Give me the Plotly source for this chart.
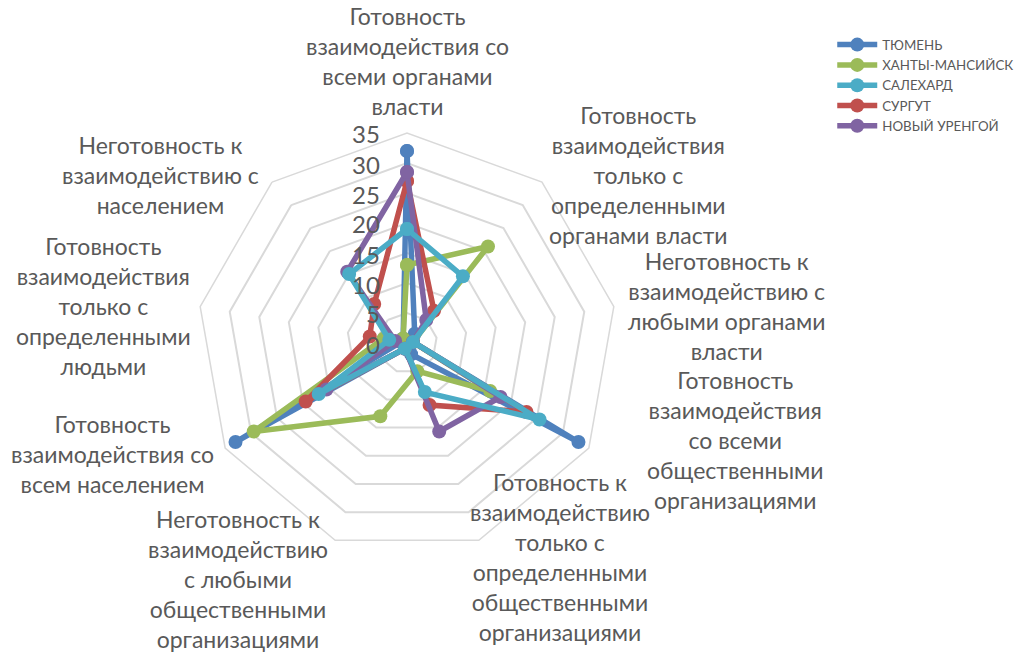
import plotly.graph_objects as go

categories = [
    "Готовность<br>взаимодействия со<br>всеми органами<br>власти",
    "Готовность<br>взаимодействия<br>только с<br>определенными<br>органами власти",
    "Неготовность к<br>взаимодействию с<br>любыми органами<br>власти",
    "Готовность<br>взаимодействия<br>со всеми<br>общественными<br>организациями",
    "Готовность к<br>взаимодействию<br>только с<br>определенными<br>общественными<br>организациями",
    "Неготовность к<br>взаимодействию<br>с любыми<br>общественными<br>организациями",
    "Готовность<br>взаимодействия со<br>всем населением",
    "Готовность<br>взаимодействия<br>только с<br>определенными<br>людьми",
    "Неготовность к<br>взаимодействию с<br>населением",
]

series_names = ["ТЮМЕНЬ", "ХАНТЫ-МАНСИЙСК", "САЛЕХАРД", "СУРГУТ", "НОВЫЙ УРЕНГОЙ"]
tyumen = [32, 2, 1, 33, 2, 1, 33, 1, 1]
khanty = [13, 21, 1, 16, 5, 13, 29.5, 4, 1]
salekhard = [19, 14.5, 1, 25.5, 8.7, 1, 17, 3, 15]
surgut = [27, 7, 1, 23, 11, 1, 19.5, 6.3, 8.5]
novy_urengoy = [28.5, 5, 1, 18, 15.7, 1, 15.5, 2, 15.5]
radial_ticks = [0, 5, 10, 15, 20, 25, 30, 35]

colors = {
    "ТЮМЕНЬ": "#4f81bd",
    "ХАНТЫ-МАНСИЙСК": "#9bbb59",
    "САЛЕХАРД": "#4bacc6",
    "СУРГУТ": "#c0504d",
    "НОВЫЙ УРЕНГОЙ": "#8064a2",
}
values = {
    "ТЮМЕНЬ": tyumen,
    "ХАНТЫ-МАНСИЙСК": khanty,
    "САЛЕХАРД": salekhard,
    "СУРГУТ": surgut,
    "НОВЫЙ УРЕНГОЙ": novy_urengoy,
}

W, H = 1030, 655
cx, cy, R = 407, 343, 210
RMAX = 35

theta_ids = [str(i) for i in range(len(categories))]

fig = go.Figure()
draw_order = ["ТЮМЕНЬ", "ХАНТЫ-МАНСИЙСК", "СУРГУТ", "НОВЫЙ УРЕНГОЙ", "САЛЕХАРД"]
for name in draw_order:
    v = values[name]
    fig.add_trace(go.Scatterpolar(
        r=v + [v[0]],
        theta=theta_ids + [theta_ids[0]],
        mode="lines+markers",
        name=name,
        legendrank=series_names.index(name) + 1,
        line=dict(color=colors[name], width=5.5),
        marker=dict(color=colors[name], size=14),
    ))

# category label centres (pixels)
label_pos = [
    (407, 61), (638, 175), (726, 306), (735, 440), (560, 557),
    (238, 579), (112, 454), (103, 306), (160, 175),
]
annotations = []
for text, (px, py) in zip(categories, label_pos):
    annotations.append(dict(
        x=px / W, y=1 - py / H, xref="paper", yref="paper",
        text=text, showarrow=False, xanchor="center", yanchor="middle",
        align="center", font=dict(family="Lato", size=23, color="#595959"),
    ))

# radial tick labels (left of the top spoke)
for t in radial_ticks:
    py = cy - t * R / RMAX + 1
    annotations.append(dict(
        x=382 / W, y=1 - py / H, xref="paper", yref="paper",
        text=str(t), showarrow=False, xanchor="right", yanchor="middle",
        font=dict(family="Lato", size=24, color="#595959"),
    ))

fig.update_layout(
    width=W, height=H,
    margin=dict(l=0, r=0, t=0, b=0),
    paper_bgcolor="white",
    font=dict(family="Lato", color="#595959"),
    polar=dict(
        domain=dict(x=[(cx - R) / W, (cx + R) / W], y=[1 - (cy + R) / H, 1 - (cy - R) / H]),
        gridshape="linear",
        bgcolor="white",
        angularaxis=dict(
            type="category",
            categoryarray=theta_ids,
            direction="clockwise",
            rotation=90,
            showgrid=False,
            showticklabels=False,
            ticks="",
            showline=True,
            linecolor="#d9d9d9",
            linewidth=1.5,
        ),
        radialaxis=dict(
            range=[0, RMAX],
            tickvals=radial_ticks,
            angle=90,
            showticklabels=False,
            showline=False,
            ticks="",
            gridcolor="#d9d9d9",
            gridwidth=1.5,
        ),
    ),
    showlegend=True,
    legend=dict(
        x=0.808, y=0.955, xanchor="left", yanchor="top",
        font=dict(family="Lato", size=13.3, color="#595959"),
        itemwidth=40, tracegroupgap=0,
    ),
    annotations=annotations,
)

fig.write_html(
    "out.html",
    config={"displayModeBar": False},
    post_script="document.body.style.margin='0';document.body.style.padding='0';",
)
